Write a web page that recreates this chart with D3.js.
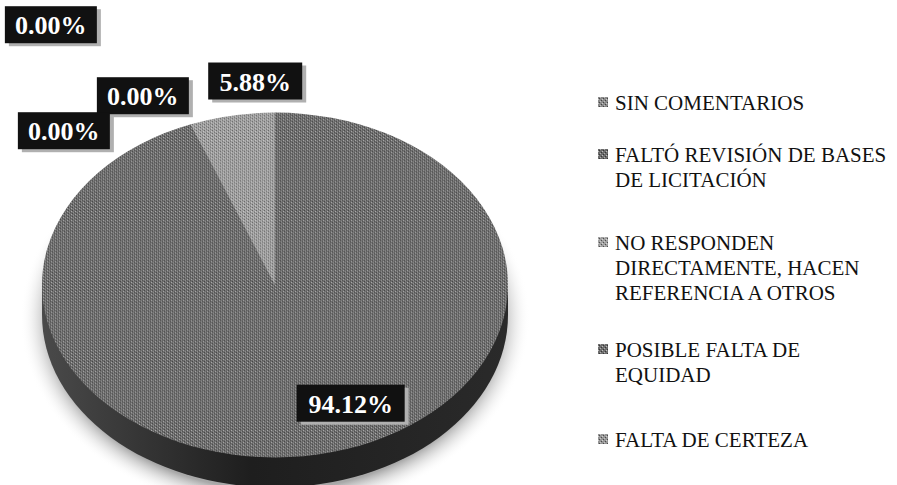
<!DOCTYPE html>
<html>
<head>
<meta charset="utf-8">
<script src="https://cdn.jsdelivr.net/npm/d3@7"></script>
</head>
<body style="margin:0">
<script>
// categories and values (percent)
var categories = ['SIN COMENTARIOS', 'FALTÓ REVISIÓN DE BASES DE LICITACIÓN',
  'NO RESPONDEN DIRECTAMENTE, HACEN REFERENCIA A OTROS', 'POSIBLE FALTA DE EQUIDAD', 'FALTA DE CERTEZA'];
var values = [0, 0, 5.88, 94.12, 0];
var labelTexts = ['0.00%', '0.00%', '5.88%', '94.12%', '0.00%'];
// legend lines as they wrap in the picture
var legendLines = [
  ['SIN COMENTARIOS'],
  ['FALTÓ REVISIÓN DE BASES', 'DE LICITACIÓN'],
  ['NO RESPONDEN', 'DIRECTAMENTE, HACEN', 'REFERENCIA A OTROS'],
  ['POSIBLE FALTA DE', 'EQUIDAD'],
  ['FALTA DE CERTEZA']
];
var sliceColors = ['#8a8a8a', '#6c6c6c', '#a0a0a0', '#6e6e6e', '#959595'];

var width = 897, height = 485;
var cx = 275, cy = 285, rx = 233, tilt = 0.74, depth = 30;
var serif = 'Liberation Serif';

var svg = d3.select('body').append('svg')
  .attr('width', width).attr('height', height)
  .style('display', 'block');

var defs = svg.append('defs');

// halftone-like patterns, one per slice colour
sliceColors.forEach(function(c, i) {
  var p = defs.append('pattern').attr('id', 'ht' + i)
    .attr('patternUnits', 'userSpaceOnUse').attr('width', 4).attr('height', 4);
  p.append('rect').attr('width', 4).attr('height', 4).attr('fill', c);
  p.append('rect').attr('x', 0).attr('y', 0).attr('width', 1).attr('height', 1).attr('fill', '#fff').attr('opacity', 0.55);
  p.append('rect').attr('x', 2).attr('y', 2).attr('width', 1).attr('height', 1).attr('fill', '#fff').attr('opacity', 0.45);
  p.append('rect').attr('x', 1).attr('y', 3).attr('width', 1).attr('height', 1).attr('fill', '#000').attr('opacity', 0.5);
  p.append('rect').attr('x', 3).attr('y', 1).attr('width', 1).attr('height', 1).attr('fill', '#000').attr('opacity', 0.5);
});

var shadowGrad = defs.append('radialGradient').attr('id', 'shadow');
shadowGrad.append('stop').attr('offset', '88%').attr('stop-color', '#a8a8a8');
shadowGrad.append('stop').attr('offset', '100%').attr('stop-color', '#ffffff').attr('stop-opacity', 0);

var sideGrad = defs.append('linearGradient').attr('id', 'side')
  .attr('x1', 0).attr('x2', 1).attr('y1', 0).attr('y2', 0);
sideGrad.append('stop').attr('offset', '0%').attr('stop-color', '#4a4a4a');
sideGrad.append('stop').attr('offset', '45%').attr('stop-color', '#1e1e1e');
sideGrad.append('stop').attr('offset', '100%').attr('stop-color', '#2a2a2a');

// soft shadow under the pie
svg.append('ellipse')
  .attr('cx', cx).attr('cy', cy + depth + 4)
  .attr('rx', rx + 22).attr('ry', rx * tilt + 22)
  .attr('fill', 'url(#shadow)');

var startAngle = -2 * Math.PI * values[2] / 100;
var pie = d3.pie().sort(null).value(function(d) { return d; })
  .startAngle(startAngle).endAngle(startAngle + 2 * Math.PI);
var arcs = pie(values);

var arc = d3.arc().innerRadius(0).outerRadius(rx);

// side wall (front half) : ellipse shifted down + connecting band
var side = svg.append('g').attr('transform', 'translate(' + cx + ',' + (cy + depth) + ') scale(1,' + tilt + ')');
side.append('path')
  .attr('d', d3.arc().innerRadius(0).outerRadius(rx).startAngle(Math.PI / 2).endAngle(3 * Math.PI / 2)())
  .attr('fill', 'url(#side)');
svg.append('rect')
  .attr('x', cx - rx).attr('y', cy).attr('width', 2 * rx).attr('height', depth)
  .attr('fill', 'url(#side)');

// top face
var topFace = svg.append('g')
  .attr('transform', 'translate(' + cx + ',' + cy + ') scale(1,' + tilt + ')');
topFace.selectAll('path.slice')
  .data(arcs)
  .enter()
  .append('path')
  .attr('class', 'slice')
  .attr('d', arc)
  .attr('fill', function(d, i) { return 'url(#ht' + i + ')'; });

// data labels: anchor on the ellipse at the slice middle, nudged like the original
var labelRadius = [1, 1, 1, 0.6, 1];
var labelNudge = [[-140, -99], [-48, -28], [23, -34], [50, 17], [-127, 7]];
var fontSize = 26;
var labels = svg.selectAll('g.lbl')
  .data(arcs)
  .enter()
  .append('g')
  .attr('class', 'lbl')
  .attr('transform', function(d, i) {
    var a = (d.startAngle + d.endAngle) / 2;
    var r = rx * labelRadius[i];
    var x = cx + r * Math.sin(a) + labelNudge[i][0];
    var y = cy - r * tilt * Math.cos(a) + labelNudge[i][1];
    return 'translate(' + x + ',' + y + ')';
  });
var boxW = [92, 92, 94, 108, 92];
labels.append('rect').attr('x', function(d, i) { return -boxW[i] / 2 + 4; })
  .attr('y', -16).attr('width', function(d, i) { return boxW[i]; }).attr('height', 37)
  .attr('fill', '#b0b0b0');
labels.append('rect').attr('x', function(d, i) { return -boxW[i] / 2; })
  .attr('y', -19).attr('width', function(d, i) { return boxW[i]; }).attr('height', 37)
  .attr('fill', '#111');
labels.append('text')
  .attr('font-family', serif)
  .attr('text-anchor', 'middle').attr('dy', '0.35em')
  .attr('font-size', fontSize).attr('font-weight', 'bold')
  .attr('fill', '#fff').text(function(d, i) { return labelTexts[i]; });

// legend
var legendY = d3.scaleOrdinal().domain(categories).range([103, 155, 243, 350, 440]);
var lineH = 25;
var legend = svg.selectAll('g.legend')
  .data(categories)
  .enter()
  .append('g')
  .attr('class', 'legend')
  .attr('transform', function(d) { return 'translate(598,' + legendY(d) + ')'; });
legend.append('rect')
  .attr('x', 0).attr('y', -6).attr('width', 10).attr('height', 10)
  .attr('fill', function(d, i) { return 'url(#ht' + i + ')'; });
legend.append('text')
  .attr('font-family', serif)
  .attr('x', 17).attr('y', 7)
  .attr('font-size', 21).attr('fill', '#111')
  .selectAll('tspan')
  .data(function(d, i) { return legendLines[i]; })
  .enter()
  .append('tspan')
  .attr('x', 17)
  .attr('dy', function(d, j) { return j === 0 ? 0 : lineH; })
  .text(function(d) { return d; });
</script>
</body>
</html>
